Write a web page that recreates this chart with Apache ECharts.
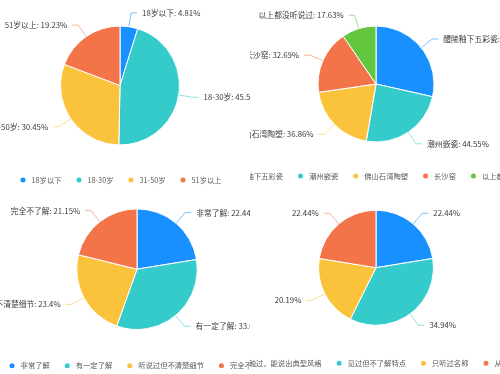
<!DOCTYPE html>
<html><head><meta charset="utf-8">
<script src="https://cdn.jsdelivr.net/npm/echarts@6/dist/echarts.min.js"></script>
<style>
html,body{margin:0;padding:0;background:#fff;width:500px;height:374px;overflow:hidden}
.cell{position:absolute;width:250px;height:187px;overflow:hidden}
.chart{position:absolute;top:0;width:400px;height:187px}
</style></head><body>
<div class="cell" style="left:0;top:0"><div id="c1" class="chart" style="left:-80px"></div></div>
<div class="cell" style="left:250px;top:0"><div id="c2" class="chart" style="left:-74px"></div></div>
<div class="cell" style="left:0;top:187px"><div id="c3" class="chart" style="left:-63px"></div></div>
<div class="cell" style="left:250px;top:187px"><div id="c4" class="chart" style="left:-74px"></div></div>
<script>
var ageCategories = ['18岁以下', '18-30岁', '31-50岁', '51岁以上'];
var ageValues = [15, 142, 95, 60];
var craftCategories = ['醴陵釉下五彩瓷', '潮州嵌瓷', '佛山石湾陶塑', '长沙窑', '以上都没听说过'];
var craftValues = [52.56, 44.55, 36.86, 32.69, 17.63];
var knowCategories = ['非常了解', '有一定了解', '听说过但不清楚细节', '完全不了解'];
var knowValues = [70, 103, 73, 66];
var contactCategories = ['曾接触过，能说出典型风格', '见过但不了解特点', '只听过名称', '从未听说过'];
var contactValues = [70, 109, 63, 70];

var palette = ['#1890FF', '#36CBCB', '#FBC23C', '#F4744A', '#62C63E'];
var FONT = '"Noto Sans CJK SC", "Microsoft YaHei", sans-serif';

function pct(vals, v) {
  var s = vals.reduce(function (a, b) { return a + b; }, 0);
  return parseFloat((v / s * 100).toFixed(2));
}

function makeOption(cats, vals, fmt, center, radius, legendTop) {
  return {
    color: palette,
    animation: false,
    textStyle: {fontFamily: FONT},
    legend: {
      data: cats, left: 'center', top: legendTop, icon: 'circle', padding: 0,
      itemWidth: 7, itemHeight: 7, itemGap: 13,
      textStyle: {fontSize: 7.3, color: '#595959', fontFamily: FONT}
    },
    series: [{
      type: 'pie', center: center, radius: radius,
      startAngle: 90, clockwise: true,
      data: cats.map(function (c, i) { return {name: c, value: vals[i]}; }),
      itemStyle: {borderColor: '#fff', borderWidth: 1},
      label: {formatter: fmt, fontSize: 7.8, color: '#3a3a3a', fontFamily: FONT},
      labelLine: {length: 14, length2: 6, lineStyle: {width: 1, opacity: 0.55}}
    }]
  };
}

function nameAndPct(vals) { return function (p) { return p.name + ': ' + pct(vals, p.value) + '%'; }; }
function pctOnly(vals) { return function (p) { return pct(vals, p.value) + '%'; }; }

echarts.init(document.getElementById('c1')).setOption(
  makeOption(ageCategories, ageValues, nameAndPct(ageValues), ['50%', 85.5], 59.5, 175.5));
echarts.init(document.getElementById('c2')).setOption(
  makeOption(craftCategories, craftValues, '{b}: {c}%', ['50%', 84], 58, 171.5));
echarts.init(document.getElementById('c3')).setOption(
  makeOption(knowCategories, knowValues, nameAndPct(knowValues), ['50%', 82.2], 60.3, 174.2));
echarts.init(document.getElementById('c4')).setOption(
  makeOption(contactCategories, contactValues, pctOnly(contactValues), ['50%', 80.7], 57.5, 171.8));
</script>
</body></html>
